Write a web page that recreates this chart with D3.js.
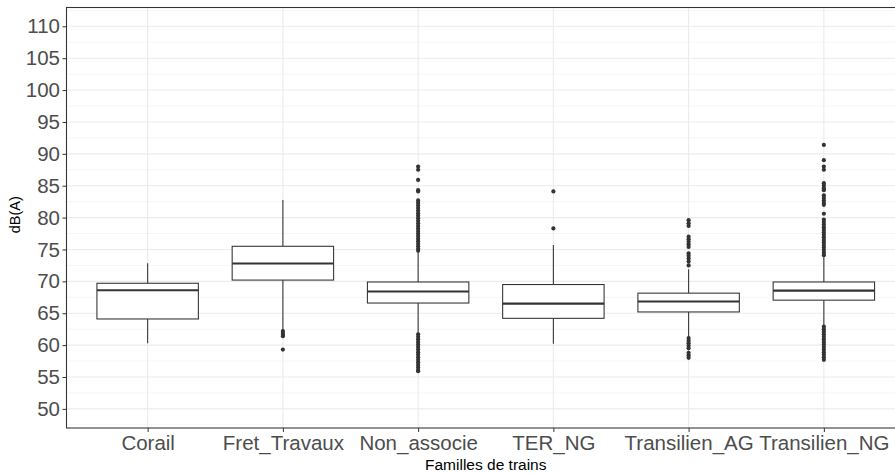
<!DOCTYPE html>
<html>
<head>
<meta charset="utf-8">
<script src="https://cdn.jsdelivr.net/npm/d3@7"></script>
<style>
  body { margin: 0; background: #fff; }
  svg { display: block; }
</style>
</head>
<body>
<div id="chart"></div>
<script>
// categories and box stats
const familles = ["Corail", "Fret_Travaux", "Non_associe", "TER_NG", "Transilien_AG", "Transilien_NG"];
const whiskerLow = [60.3, 62.1, 61.9, 60.2, 61.1, 62.9];
const q1 = [64.1, 70.2, 66.6, 64.2, 65.2, 67.05];
const median = [68.6, 72.8, 68.4, 66.5, 66.85, 68.55];
const q3 = [69.7, 75.5, 69.9, 69.5, 68.15, 69.9];
const whiskerHigh = [72.85, 82.75, 74.6, 75.7, 71.9, 74.0];
const outliers = [
  [],
  [62.2, 61.9, 61.6, 61.4, 59.3],
  [88.0, 87.5, 85.9, 84.3, 84.1, 82.7, 82.3, 81.9, 81.5, 81.1, 80.7, 80.3, 79.9, 79.5, 79.1,
   78.7, 78.3, 77.9, 77.5, 77.1, 76.7, 76.3, 75.9, 75.5, 75.1, 74.8,
   61.7, 61.3, 60.9, 60.5, 60.1, 59.7, 59.3, 58.9, 58.5, 58.1, 57.7, 57.3, 56.9, 56.5, 56.1, 55.9],
  [84.1, 78.3],
  [79.6, 79.1, 78.7, 77.0, 76.6, 76.2, 75.8, 75.4, 74.4, 74.0, 73.6, 73.1, 72.5,
   61.1, 60.7, 60.3, 59.9, 59.5, 58.8, 58.4, 58.0],
  [91.4, 89.0, 88.0, 87.5, 85.4, 85.0, 84.6, 84.3, 83.5, 83.1, 82.7, 82.3, 82.0, 80.6,
   79.7, 79.3, 78.9, 78.5, 78.1, 77.7, 77.3, 76.9, 76.5, 76.1, 75.7, 75.3, 74.9, 74.5, 74.1,
   62.9, 62.5, 62.1, 61.7, 61.3, 60.9, 60.5, 60.1, 59.7, 59.3, 58.9, 58.5, 58.1, 57.7]
];
const yTicks = [50, 55, 60, 65, 70, 75, 80, 85, 90, 95, 100, 105, 110];
const yMinor = [47.5, 52.5, 57.5, 62.5, 67.5, 72.5, 77.5, 82.5, 87.5, 92.5, 97.5, 102.5, 107.5, 112.5];

const width = 895, height = 473;
const panel = {left: 66.5, right: 905, top: 7.5, bottom: 428};
const font = "Liberation Sans, Arial, sans-serif";

const svg = d3.select("#chart").append("svg")
  .attr("width", width)
  .attr("height", height);

const x = d3.scalePoint()
  .domain(familles)
  .range([panel.left, panel.right])
  .padding(0.6);

const y = d3.scaleLinear()
  .domain([47.0, 112.95])
  .range([panel.bottom, panel.top]);

const boxW = x.step() * 0.75;

// grid
const grid = svg.append("g");
grid.selectAll("line.minor")
  .data(yMinor)
  .join("line")
  .attr("x1", panel.left).attr("x2", panel.right)
  .attr("y1", d => y(d)).attr("y2", d => y(d))
  .attr("stroke", "#f2f2f2")
  .attr("stroke-width", 0.8);
grid.selectAll("line.major")
  .data(yTicks)
  .join("line")
  .attr("x1", panel.left).attr("x2", panel.right)
  .attr("y1", d => y(d)).attr("y2", d => y(d))
  .attr("stroke", "#ebebeb")
  .attr("stroke-width", 1.1);
grid.selectAll("line.vmajor")
  .data(familles)
  .join("line")
  .attr("x1", d => x(d)).attr("x2", d => x(d))
  .attr("y1", panel.top).attr("y2", panel.bottom)
  .attr("stroke", "#ebebeb")
  .attr("stroke-width", 1.1);

// boxes
const boxes = svg.append("g")
  .selectAll("g")
  .data(familles)
  .join("g");

boxes.append("line")
  .attr("x1", d => x(d)).attr("x2", d => x(d))
  .attr("y1", (d, i) => y(whiskerHigh[i])).attr("y2", (d, i) => y(q3[i]))
  .attr("stroke", "#333").attr("stroke-width", 1.07);
boxes.append("line")
  .attr("x1", d => x(d)).attr("x2", d => x(d))
  .attr("y1", (d, i) => y(q1[i])).attr("y2", (d, i) => y(whiskerLow[i]))
  .attr("stroke", "#333").attr("stroke-width", 1.07);
boxes.append("rect")
  .attr("x", d => x(d) - boxW / 2)
  .attr("width", boxW)
  .attr("y", (d, i) => y(q3[i]))
  .attr("height", (d, i) => y(q1[i]) - y(q3[i]))
  .attr("fill", "#fff")
  .attr("stroke", "#333")
  .attr("stroke-width", 1.07);
boxes.append("line")
  .attr("x1", d => x(d) - boxW / 2).attr("x2", d => x(d) + boxW / 2)
  .attr("y1", (d, i) => y(median[i])).attr("y2", (d, i) => y(median[i]))
  .attr("stroke", "#333").attr("stroke-width", 2.1);

boxes.selectAll("circle")
  .data((d, i) => outliers[i].map(v => ({cat: d, v: v})))
  .join("circle")
  .attr("cx", d => x(d.cat))
  .attr("cy", d => y(d.v))
  .attr("r", 2.1)
  .attr("fill", "#333");

// panel border
svg.append("rect")
  .attr("x", panel.left).attr("y", panel.top)
  .attr("width", panel.right - panel.left)
  .attr("height", panel.bottom - panel.top)
  .attr("fill", "none")
  .attr("stroke", "#333")
  .attr("stroke-width", 1.07);

// axes
const yAxis = svg.append("g")
  .attr("transform", `translate(${panel.left},0)`)
  .call(d3.axisLeft(y).tickValues(yTicks).tickSize(4).tickPadding(2.5));
yAxis.select(".domain").remove();
yAxis.selectAll("line").attr("stroke", "#333");
yAxis.selectAll("text")
  .attr("fill", "#4d4d4d")
  .attr("font-family", font)
  .attr("font-size", "20.5px");

const xAxis = svg.append("g")
  .attr("transform", `translate(0,${panel.bottom})`)
  .call(d3.axisBottom(x).tickSize(4).tickPadding(3.5));
xAxis.select(".domain").remove();
xAxis.selectAll("line").attr("stroke", "#333");
xAxis.selectAll("text")
  .attr("fill", "#4d4d4d")
  .attr("font-family", font)
  .attr("font-size", "20.5px");

svg.append("text")
  .attr("x", (panel.left + panel.right) / 2)
  .attr("y", 469.5)
  .attr("text-anchor", "middle")
  .attr("font-family", font)
  .attr("font-size", "15.5px")
  .attr("fill", "#000")
  .text("Familles de trains");

svg.append("text")
  .attr("transform", `translate(20,${(panel.top + panel.bottom) / 2 - 3}) rotate(-90)`)
  .attr("text-anchor", "middle")
  .attr("font-family", font)
  .attr("font-size", "14.5px")
  .attr("fill", "#000")
  .text("dB(A)");
</script>
</body>
</html>
